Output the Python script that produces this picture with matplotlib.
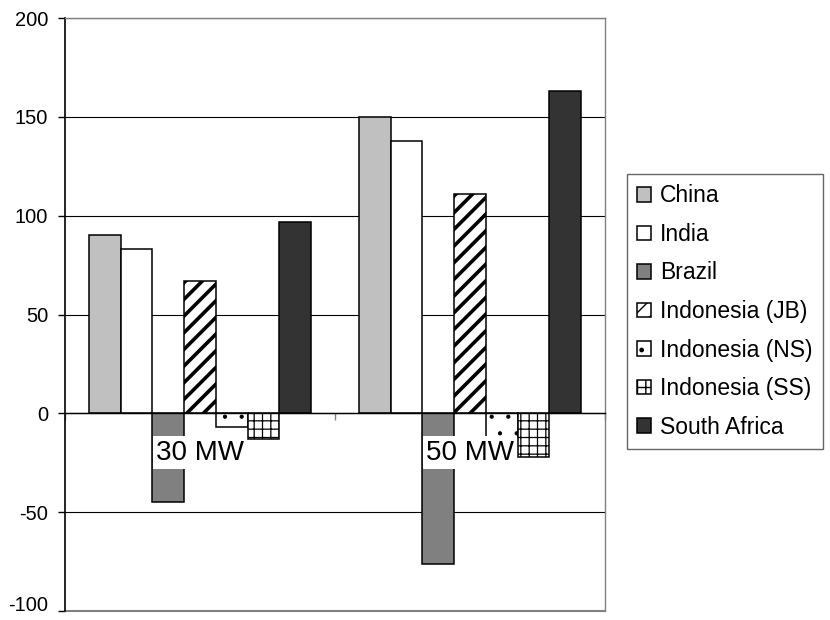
import numpy as np
import matplotlib
matplotlib.use("Agg")
import matplotlib.pyplot as plt

plt.rcParams["font.family"] = ["Liberation Sans", "DejaVu Sans"]
plt.rcParams["axes.unicode_minus"] = False

# data
categories = ["30 MW", "50 MW"]
series = ["China", "India", "Brazil", "Indonesia (JB)", "Indonesia (NS)",
          "Indonesia (SS)", "South Africa"]
china = [90, 150]
india = [83, 138]
brazil = [-45, -76]
indonesia_jb = [67, 111]
indonesia_ns = [-7, -12]
indonesia_ss = [-13, -22]
south_africa = [97, 163]
values = [china, india, brazil, indonesia_jb, indonesia_ns, indonesia_ss, south_africa]

colors = ["#c0c0c0", "white", "#808080", "white", "white", "white", "#333333"]
hatches = [None, None, None, "//", ".", "++", None]
hatch_lw = [1.0, 1.0, 1.0, 2.6, 0.6, 0.9, 1.0]

fig = plt.figure(figsize=(8.3, 6.2), dpi=100)
ax = fig.add_axes([65 / 830, 1 - 611 / 620, 540 / 830, 593 / 620])

x = np.arange(len(categories))
n = len(series)
width = 1 / (n + 1.5)  # excel gap width 150%

for i, (name, vals) in enumerate(zip(series, values)):
    offs = (i - (n - 1) / 2) * width
    bc = ax.bar(x + offs, vals, width, color=colors[i], edgecolor="black",
                linewidth=1.1, hatch=hatches[i], label=name, zorder=2)
    for p in bc:
        try:
            p.set_hatch_linewidth(hatch_lw[i])
        except AttributeError:
            pass

ax.set_xlim(-0.5, len(categories) - 0.5)
ax.set_ylim(-100, 200)
ax.set_yticks(np.arange(-100, 201, 50))
ax.tick_params(axis="y", labelsize=14.5, length=5, width=1, direction="out", pad=7)
ax.yaxis.grid(True, color="black", linewidth=0.8)
ax.set_axisbelow(True)
# keep the lowest label inside the figure
ax.get_yticklabels()[0].set_verticalalignment("baseline")

# category axis sits on zero, ticks at category boundaries
ax.spines["bottom"].set_position(("data", 0))
ax.spines["bottom"].set_color("black")
ax.spines["bottom"].set_linewidth(1.0)
ax.set_xticks(np.arange(len(categories) + 1) - 0.5)
ax.set_xticklabels([])
ax.tick_params(axis="x", length=5, width=1, direction="out", colors="#808080")
ax.spines["left"].set_color("black")
ax.spines["left"].set_linewidth(1.2)
for s in ["top", "right"]:
    ax.spines[s].set_color("#808080")
    ax.spines[s].set_linewidth(1.0)
ax.axhline(-100, color="#808080", linewidth=1.5, clip_on=False)

for xi, lab in zip(x, categories):
    ax.annotate(lab, (xi, 0), xytext=(0, -19), textcoords="offset points",
                ha="center", va="top", fontsize=20, zorder=6,
                bbox=dict(boxstyle="square,pad=0.12", facecolor="white",
                          edgecolor="none"))

leg = fig.legend(loc="upper left", bbox_to_anchor=(627 / 830, 1 - 174 / 620),
                 fontsize=16.5, frameon=True, fancybox=False, borderpad=0.45,
                 labelspacing=0.68, handlelength=0.6, handleheight=0.6,
                 handletextpad=0.4, borderaxespad=0)
leg.get_frame().set_edgecolor("#404040")
leg.get_frame().set_linewidth(1.0)

fig.savefig("out.png", dpi=100)
